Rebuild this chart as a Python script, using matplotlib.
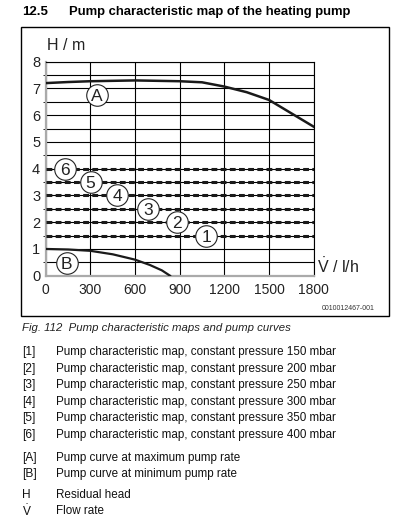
import numpy as np
import matplotlib
matplotlib.use('Agg')
import matplotlib.pyplot as plt
from matplotlib.patches import Rectangle

plt.rcParams['font.family'] = ['Liberation Sans', 'DejaVu Sans']
plt.rcParams['mathtext.fontset'] = 'custom'
plt.rcParams['mathtext.rm'] = 'Liberation Sans'

# pump curve A (maximum rate) and B (minimum rate)
flow_a = [0, 150, 300, 600, 900, 1050, 1200, 1350, 1500, 1650, 1800]
head_a = [7.2, 7.24, 7.27, 7.3, 7.27, 7.23, 7.07, 6.86, 6.57, 6.07, 5.57]
flow_b = [0, 150, 300, 450, 600, 700, 780, 835]
head_b = [1.0, 0.98, 0.93, 0.8, 0.6, 0.4, 0.2, 0.0]

# constant pressure maps [1]..[6]
map_ids = ['1', '2', '3', '4', '5', '6']
map_heads = [1.5, 2.0, 2.5, 3.0, 3.5, 4.0]
map_label_x = [1077, 880, 689, 481, 302, 130]

curve_ids = ['A', 'B']
curve_label_x = [342, 141]
curve_label_y = [6.75, 0.46]

x_ticks = [0, 300, 600, 900, 1200, 1500, 1800]
y_ticks = [0, 1, 2, 3, 4, 5, 6, 7, 8]

legend_keys = ['[1]', '[2]', '[3]', '[4]', '[5]', '[6]', '[A]', '[B]', 'H', r'$\dot{\mathrm{V}}$']
legend_text = ['Pump characteristic map, constant pressure 150 mbar',
               'Pump characteristic map, constant pressure 200 mbar',
               'Pump characteristic map, constant pressure 250 mbar',
               'Pump characteristic map, constant pressure 300 mbar',
               'Pump characteristic map, constant pressure 350 mbar',
               'Pump characteristic map, constant pressure 400 mbar',
               'Pump curve at maximum pump rate',
               'Pump curve at minimum pump rate',
               'Residual head',
               'Flow rate']
legend_y = [352, 369, 385, 401.5, 418, 435, 457.5, 474, 495.5, 511]

W, H = 395, 529


def px(x, y):
    return x / W, 1 - y / H


fig = plt.figure(figsize=(W / 100, H / 100), dpi=100)
ax = fig.add_axes([45.7 / W, 1 - 275.7 / H, 268 / W, 214 / H])

ax.set_xlim(0, 1800)
ax.set_ylim(0, 8)
ax.set_xticks(x_ticks)
ax.set_yticks(np.arange(0, 8.01, 0.5), minor=True)
ax.set_yticks(y_ticks)
ax.set_xticklabels([str(v) for v in x_ticks], fontsize=10)
ax.set_yticklabels([str(v) for v in y_ticks], fontsize=10.5)
ax.tick_params(length=0, pad=4, colors='#222')
ax.tick_params(axis='x', pad=5)
ax.grid(True, which='both', color='black', lw=0.8)
ax.set_axisbelow(True)
for s in ['top', 'right']:
    ax.spines[s].set_color('black')
    ax.spines[s].set_linewidth(0.8)
for s in ['left', 'bottom']:
    ax.spines[s].set_color('#aaaaaa')
    ax.spines[s].set_linewidth(1.6)

for hd in map_heads:
    ax.plot([0, 1800], [hd, hd], color='#1a1a1a', lw=2.2, dashes=(1.9, 1.1),
            solid_capstyle='butt', dash_capstyle='butt', zorder=3)

ax.plot(flow_a, head_a, color='#1a1a1a', lw=1.8, zorder=3)
ax.plot(flow_b, head_b, color='#1a1a1a', lw=1.6, zorder=3)

for lab, lx, ly in zip(map_ids + curve_ids, map_label_x + curve_label_x,
                       map_heads + curve_label_y):
    ax.plot(lx, ly, 'o', ms=15.5, mfc='white', mec='#222', mew=0.8, zorder=4,
            clip_on=False)
    ax.text(lx, ly, lab, ha='center', va='center_baseline', fontsize=12.5,
            color='#222', zorder=5)

fig.text(*px(47, 45), 'H / m', fontsize=11.5, ha='left', va='center', color='#222')
fig.text(*px(317, 266), r'$\dot{\mathrm{V}}$ / l/h', fontsize=11.5, ha='left',
         va='center', color='#222')
fig.text(*px(375, 308), '0010012467-001', fontsize=5, ha='right', va='center', color='#333')

# frame round the figure
fig.patches.append(Rectangle(px(21, 316), 368 / W, 289 / H, transform=fig.transFigure,
                             fill=False, ec='black', lw=1.0))

fig.text(*px(22, 12), '12.5', fontsize=9.5, fontweight='bold', ha='left', va='center')
fig.text(*px(69, 12), 'Pump characteristic map of the heating pump', fontsize=9.4,
         fontweight='bold', ha='left', va='center')
fig.text(*px(22, 328), 'Fig. 112  Pump characteristic maps and pump curves', fontsize=8.2,
         style='italic', ha='left', va='center', color='#222')

for k, t, y in zip(legend_keys, legend_text, legend_y):
    fig.text(*px(22, y), k, fontsize=8.6, ha='left', va='center', color='#111')
    fig.text(*px(56, y), t, fontsize=8.4, ha='left', va='center', color='#111')

fig.savefig('out.png', dpi=100)
